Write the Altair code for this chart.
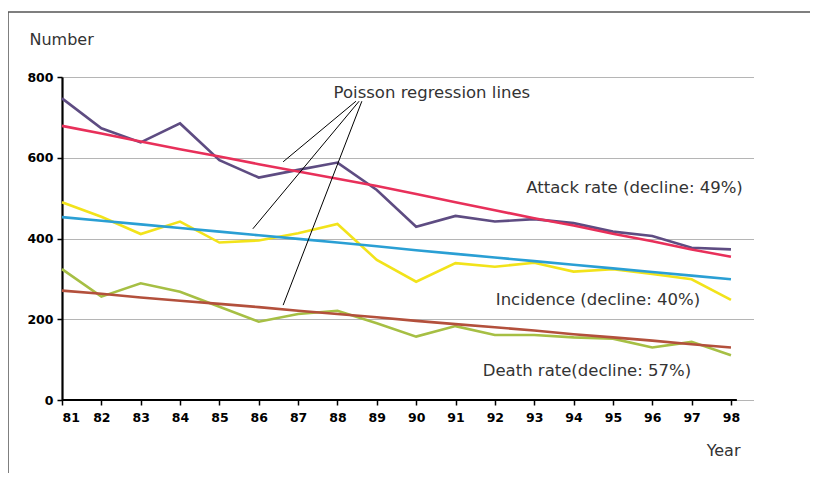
import altair as alt
import pandas as pd

# ---- data ----
years = list(range(81, 99))
attack = [747, 673, 638, 685, 594, 551, 570, 588, 520, 429, 456, 442, 448, 438, 417, 406, 377, 373]
attack_fit = [679, 660, 640, 621, 603, 584, 566, 548, 530, 510, 490, 470, 450, 432, 412, 393, 373, 355]
incidence = [490, 454, 411, 442, 390, 395, 413, 436, 347, 293, 339, 330, 340, 318, 324, 312, 299, 248]
incidence_fit = [453, 444, 435, 426, 417, 408, 399, 390, 381, 371, 362, 353, 344, 335, 326, 317, 308, 299]
death = [324, 256, 289, 268, 231, 194, 213, 221, 190, 157, 183, 161, 161, 155, 152, 130, 144, 111]
death_fit = [271, 263, 254, 246, 238, 230, 221, 213, 205, 196, 188, 180, 172, 163, 155, 147, 138, 130]

series_names = ["Attack rate", "Attack fit", "Incidence", "Incidence fit", "Death rate", "Death fit"]
series_values = [attack, attack_fit, incidence, incidence_fit, death, death_fit]
series_colors = ["#5e4c82", "#e8305a", "#f2e31a", "#2a9fd4", "#a6bf44", "#b3503c"]

y_ticks = [0, 200, 400, 600, 800]

label_texts = ["Poisson regression lines", "Attack rate (decline: 49%)",
               "Incidence (decline: 40%)", "Death rate(decline: 57%)"]
label_x = [90.40, 95.55, 94.62, 94.34]
label_y = [749, 513, 235, 59]

pointer_x = [88.47, 88.55, 88.62]
pointer_y = [740, 740, 740]
pointer_x2 = [86.62, 85.85, 86.62]
pointer_y2 = [590, 424, 235]

# ---- tables ----
rows = []
for name, vals in zip(series_names, series_values):
    for yr, v in zip(years, vals):
        rows.append({"year": yr, "value": v, "series": name})
df = pd.DataFrame(rows)

labels_df = pd.DataFrame({"x": label_x, "y": label_y, "text": label_texts})
pointers_df = pd.DataFrame({"x": pointer_x, "y": pointer_y, "x2": pointer_x2, "y2": pointer_y2})
axis_df = pd.DataFrame({"x": [81], "x2": [98.15], "y": [0]})
one = pd.DataFrame({"a": [0]})

xscale = alt.Scale(domain=[81, 98.56], nice=False, zero=False)
yscale = alt.Scale(domain=[0, 800], nice=False)

lines = alt.Chart(df).mark_line(strokeWidth=2.6).encode(
    x=alt.X("year:Q", scale=xscale,
            axis=alt.Axis(values=years, format="d", domain=False, grid=False,
                          tickColor="black", tickWidth=1.5, tickSize=5,
                          labelFont="DejaVu Sans", labelFontWeight="bold", labelFontSize=12.5,
                          labelColor="black", labelPadding=6,
                          title="Year", titleFont="DejaVu Sans", titleFontWeight="normal",
                          titleFontSize=16, titleColor="#333333", titleAlign="right",
                          titleBaseline="alphabetic", titleX=678, titleY=55)),
    y=alt.Y("value:Q", scale=yscale,
            axis=alt.Axis(values=y_ticks, grid=True, gridColor="#6a6a6a", gridDash=[1, 1],
                          gridWidth=1, domain=True, domainColor="black", domainWidth=2.2,
                          tickColor="black", tickWidth=1.5, tickSize=5,
                          labelFont="DejaVu Sans", labelFontWeight="bold", labelFontSize=12.5,
                          labelColor="black", labelPadding=4,
                          title="Number", titleFont="DejaVu Sans", titleFontWeight="normal",
                          titleFontSize=16, titleColor="#333333", titleAngle=0,
                          titleAlign="left", titleBaseline="alphabetic",
                          titleX=-33, titleY=-33)),
    color=alt.Color("series:N", scale=alt.Scale(domain=series_names, range=series_colors),
                    legend=None),
    order=alt.value(0),
)

xaxis_line = alt.Chart(axis_df).mark_rule(color="black", strokeWidth=2.2).encode(
    x=alt.X("x:Q", scale=xscale), x2="x2:Q", y=alt.Y("y:Q", scale=yscale)
)

pointers = alt.Chart(pointers_df).mark_rule(color="black", strokeWidth=1).encode(
    x=alt.X("x:Q", scale=xscale), y=alt.Y("y:Q", scale=yscale), x2="x2:Q", y2="y2:Q"
)

texts = alt.Chart(labels_df).mark_text(
    font="DejaVu Sans", fontSize=16.5, color="#333333", align="center", baseline="alphabetic"
).encode(
    x=alt.X("x:Q", scale=xscale), y=alt.Y("y:Q", scale=yscale), text="text:N"
)

frame_left = alt.Chart(one).mark_rule(color="#555555", strokeWidth=1.5).encode(
    x=alt.value(-54), y=alt.value(-65), y2=alt.value(396)
)
frame_top = alt.Chart(one).mark_rule(color="#555555", strokeWidth=1.5).encode(
    x=alt.value(-54), x2=alt.value(748), y=alt.value(-65)
)

chart = alt.layer(lines, xaxis_line, pointers, texts, frame_left, frame_top).properties(
    width=691, height=323,
    autosize=alt.AutoSizeParams(type="none"),
    padding={"left": 54, "top": 69, "right": 57, "bottom": 73},
).configure_view(stroke=None)

chart.save("out.html", embed_options={"renderer": "svg", "actions": False})
